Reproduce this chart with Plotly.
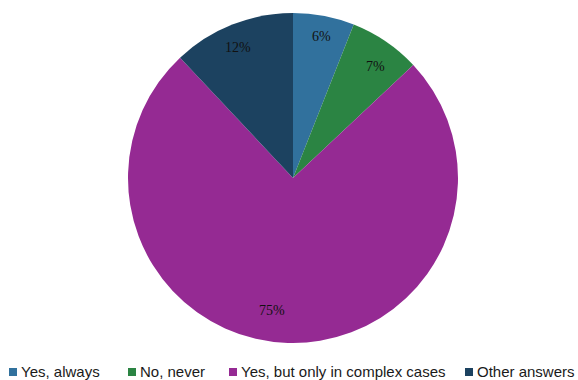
import math
import plotly.graph_objects as go

# Survey answers and their shares (percent)
categories = ["Yes, always", "No, never", "Yes, but only in complex cases", "Other answers"]
shares = [6, 7, 75, 12]
colors = ["#31719d", "#2b8443", "#952a93", "#1c4260"]

W, H = 578, 380
CX, CY, R = 293, 178, 165  # pie centre and radius in pixels

fig = go.Figure(
    go.Pie(
        labels=categories,
        values=shares,
        sort=False,
        direction="clockwise",
        rotation=0,
        marker=dict(colors=colors, line=dict(width=0)),
        textinfo="none",
        hoverinfo="label+percent",
        showlegend=False,
        domain=dict(x=[(CX - R) / W, (CX + R) / W], y=[(H - CY - R) / H, (H - CY + R) / H]),
    )
)

# Percentage labels placed along each slice's mid-angle
label_radius = [0.93, 0.89, 0.86, 0.91]
label_xshift = [0, 0, -17, 0]
total = sum(shares)
cum = 0
for v, rf, xs in zip(shares, label_radius, label_xshift):
    mid = (cum + v / 2) / total
    cum += v
    th = 2 * math.pi * mid
    px = CX + rf * R * math.sin(th)
    py = CY - rf * R * math.cos(th)
    fig.add_annotation(
        x=px / W, y=1 - py / H, xref="paper", yref="paper",
        text=f"{round(100 * v / total)}%", showarrow=False, xshift=xs,
        font=dict(family="Liberation Serif, Times New Roman, serif", size=14, color="#111111"),
    )

# Legend row along the bottom edge
legend_x = [9, 128, 229, 465]
for name, col, lx in zip(categories, colors, legend_x):
    fig.add_shape(
        type="rect", xref="paper", yref="paper",
        x0=lx / W, x1=(lx + 8) / W, y0=(H - 376) / H, y1=(H - 368) / H,
        fillcolor=col, line=dict(width=0),
    )
    fig.add_annotation(
        x=(lx + 10) / W, y=(H - 371) / H, xref="paper", yref="paper",
        xanchor="left", yanchor="middle", text=name, showarrow=False,
        font=dict(family="Liberation Sans, Arial, sans-serif", size=15, color="#1a1a1a"),
    )

fig.update_layout(
    width=W, height=H,
    margin=dict(l=0, r=0, t=0, b=0),
    paper_bgcolor="white",
    plot_bgcolor="white",
)

fig.write_html("out.html")
